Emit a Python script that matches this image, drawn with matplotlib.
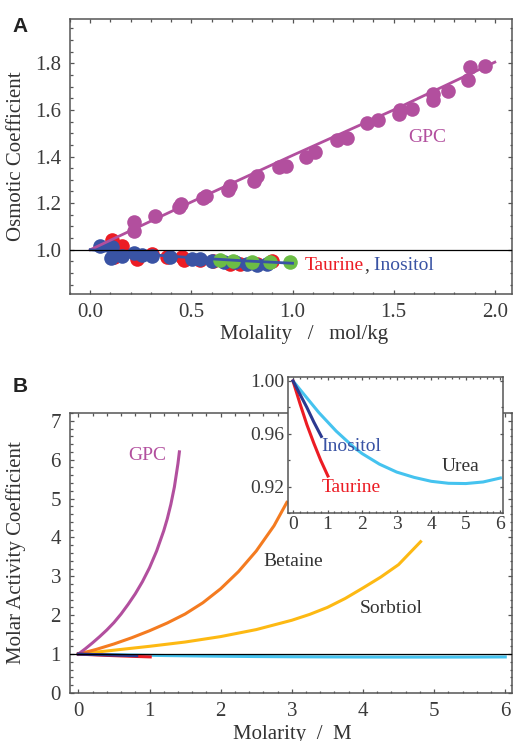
import matplotlib
matplotlib.use("Agg")
import matplotlib.pyplot as plt
from matplotlib.ticker import MultipleLocator, FormatStrFormatter

# ---- panel A: osmotic coefficient vs molality ----
gpc_m = [0.214, 0.214, 0.318, 0.44, 0.45, 0.556, 0.57, 0.683, 0.69, 0.807, 0.826,
         0.935, 0.968, 1.067, 1.11, 1.218, 1.268, 1.366, 1.424, 1.526, 1.53, 1.593,
         1.692, 1.692, 1.77, 1.868, 1.877, 1.95]
gpc_phi = [1.118, 1.082, 1.146, 1.185, 1.195, 1.22, 1.23, 1.258, 1.275, 1.297, 1.318,
           1.354, 1.361, 1.40, 1.419, 1.469, 1.48, 1.543, 1.555, 1.583, 1.598, 1.605,
           1.641, 1.667, 1.681, 1.727, 1.784, 1.79]
gpc_fit_m = [0.0, 0.5, 1.0, 1.5, 2.0]
gpc_fit_phi = [1.0, 1.205, 1.405, 1.60, 1.805]

taurine_m = [0.107, 0.156, 0.115, 0.23, 0.305, 0.379, 0.453, 0.461, 0.543, 0.609,
             0.691, 0.741, 0.823, 0.897]
taurine_phi = [1.042, 1.017, 0.967, 0.96, 0.981, 0.967, 0.970, 0.956, 0.956, 0.950,
               0.938, 0.941, 0.938, 0.953]
inositol_m = [0.046, 0.107, 0.102, 0.156, 0.214, 0.255, 0.305, 0.392, 0.502, 0.543,
              0.601, 0.662, 0.716, 0.774, 0.823, 0.872]
inositol_phi = [1.017, 1.013, 0.964, 0.974, 0.984, 0.978, 0.974, 0.967, 0.96, 0.96,
                0.953, 0.946, 0.946, 0.941, 0.934, 0.941]
other_m = [0.642, 0.708, 0.798, 0.889, 0.988]
other_phi = [0.956, 0.950, 0.946, 0.946, 0.946]
low_fit_m = [0.0, 0.25, 0.5, 0.75, 1.0]
low_fit_phi = [1.0, 0.982, 0.966, 0.953, 0.942]

# ---- panel B: molar activity coefficient vs molarity ----
gpc_c = [0.0, 0.1, 0.2, 0.3, 0.4, 0.5, 0.6, 0.7, 0.8, 0.9, 1.0, 1.1, 1.2, 1.25,
         1.3, 1.35, 1.4, 1.42]
gpc_g = [1.0, 1.14, 1.29, 1.45, 1.62, 1.81, 2.03, 2.28, 2.55, 2.86, 3.22, 3.65, 4.17,
         4.48, 4.85, 5.30, 5.90, 6.20]
betaine_c = [0.0, 0.25, 0.5, 0.75, 1.0, 1.25, 1.5, 1.75, 2.0, 2.25, 2.5, 2.75, 2.93]
betaine_g = [1.0, 1.12, 1.26, 1.42, 1.60, 1.80, 2.03, 2.32, 2.68, 3.12, 3.65, 4.30, 4.90]
sorbitol_c = [0.0, 0.5, 1.0, 1.5, 2.0, 2.5, 3.0, 3.25, 3.5, 3.75, 4.0, 4.25, 4.5, 4.81]
sorbitol_g = [1.0, 1.10, 1.20, 1.31, 1.45, 1.63, 1.87, 2.02, 2.20, 2.43, 2.70, 2.98,
              3.30, 3.89]
urea_c = [0.0, 0.25, 0.5, 0.75, 1.0, 1.25, 1.5, 1.75, 2.0, 2.5, 3.0, 3.5, 4.0, 4.5,
          5.0, 5.5, 6.0]
urea_g = [1.0, 0.992, 0.984, 0.976, 0.969, 0.962, 0.956, 0.950, 0.945, 0.937, 0.931,
          0.927, 0.924, 0.9225, 0.9223, 0.9235, 0.9265]
inositol_c = [0.0, 0.2, 0.4, 0.6, 0.82]
inositol_g = [1.0, 0.990, 0.980, 0.969, 0.958]
taurine_c = [0.0, 0.2, 0.4, 0.6, 0.8, 1.01]
taurine_g = [1.0, 0.983, 0.967, 0.953, 0.940, 0.928]

PURPLE = "#b24f9e"
RED = "#ec1c24"
BLUE = "#3953a4"
NAVY = "#2b3990"
GREEN = "#6cbd45"
ORANGE = "#f47b20"
YELLOW = "#fdb913"
CYAN = "#45c3ef"
TXT = "#333333"
SERIF = "Liberation Serif"

plt.rcParams["font.family"] = SERIF


def style(ax, fs=15, pad=6.5, major=3.0, minor=1.8):
    for s in ax.spines.values():
        s.set_color("#555555")
        s.set_linewidth(1.1)
    ax.tick_params(which="both", direction="in", top=True, right=True,
                   color="#555555", width=0.9, labelsize=fs, labelcolor="#3a3a3a",
                   pad=pad)
    ax.tick_params(which="major", length=major)
    ax.tick_params(which="minor", length=minor)


fig = plt.figure(figsize=(5.13, 7.41), dpi=100)

# panel A
axA = fig.add_axes([0.1365, 0.6032, 0.8616, 0.3711])
ms = 10.5
axA.plot(taurine_m, taurine_phi, "o", color=RED, ms=ms, mec="none", zorder=2)
axA.plot(inositol_m, inositol_phi, "o", color=BLUE, ms=ms, mec="none", zorder=3)
axA.plot(other_m, other_phi, "o", color=GREEN, ms=ms, mec="none", zorder=4)
axA.plot(gpc_m, gpc_phi, "o", color=PURPLE, ms=ms, mec="none", zorder=4)
axA.plot(gpc_fit_m, gpc_fit_phi, color=PURPLE, lw=2.0, zorder=5)
axA.plot(low_fit_m, low_fit_phi, color=BLUE, lw=2.0, zorder=5)
axA.axhline(1.0, color="black", lw=0.9, zorder=6)
axA.set_xlim(-0.1, 2.085)
axA.set_ylim(0.81, 1.99)
axA.xaxis.set_major_locator(MultipleLocator(0.5))
axA.xaxis.set_minor_locator(MultipleLocator(0.1))
axA.yaxis.set_major_locator(MultipleLocator(0.2))
axA.yaxis.set_minor_locator(MultipleLocator(0.05))
axA.xaxis.set_major_formatter(FormatStrFormatter("%.1f"))
axA.yaxis.set_major_formatter(FormatStrFormatter("%.1f"))
style(axA)
axA.set_xlabel("Molality   /   mol/kg", fontsize=15, color=TXT)
axA.xaxis.set_label_coords(0.53, -0.113)
axA.set_ylabel("Osmotic Coefficient", fontsize=15, color=TXT)
axA.yaxis.set_label_coords(-0.0995, 0.5)
axA.text(1.57, 1.482, "GPC", color=PURPLE, fontsize=14, va="center")
t1 = axA.text(1.062, 0.931, "Taurine", color=RED, fontsize=14, va="center")
t2 = axA.annotate(",", xy=(1, 0), xycoords=t1, va="bottom", color=TXT, fontsize=14)
axA.annotate(" Inositol", xy=(1, 0), xycoords=t2, va="bottom", color=BLUE, fontsize=14)

# panel B
axB = fig.add_axes([0.1365, 0.0648, 0.8616, 0.3779])
axB.axhline(1.0, color="black", lw=0.9, zorder=6)
axB.plot(urea_c, urea_g, color=CYAN, lw=2.2, zorder=3)
axB.plot(taurine_c, taurine_g, color=RED, lw=2.2, zorder=4)
axB.plot(inositol_c, inositol_g, color=NAVY, lw=2.2, zorder=5)
axB.plot(sorbitol_c, sorbitol_g, color=YELLOW, lw=2.2, zorder=3)
axB.plot(betaine_c, betaine_g, color=ORANGE, lw=2.2, zorder=3)
axB.plot(gpc_c, gpc_g, color=PURPLE, lw=2.2, zorder=3)
axB.set_xlim(-0.117, 6.095)
axB.set_ylim(0, 7.2)
axB.xaxis.set_major_locator(MultipleLocator(1))
axB.xaxis.set_minor_locator(MultipleLocator(0.2))
axB.yaxis.set_major_locator(MultipleLocator(1))
axB.yaxis.set_minor_locator(MultipleLocator(0.2))
style(axB)
axB.set_xlabel("Molarity  /  M", fontsize=15, color=TXT)
axB.xaxis.set_label_coords(0.502, -0.114)
axB.set_ylabel("Molar Activity Coefficient", fontsize=15, color=TXT)
axB.yaxis.set_label_coords(-0.0995, 0.5)
axB.text(0.70, 6.11, "GPC", color=PURPLE, fontsize=14, va="center")
axB.text(2.60, 3.38, "Betaine", color=TXT, fontsize=14, va="center")
axB.text(3.96, 2.18, "Sorbtiol", color=TXT, fontsize=14, va="center")

# inset
axI = fig.add_axes([0.5614, 0.3077, 0.4191, 0.1835])
axI.set_facecolor("white")
axI.plot(urea_c, urea_g, color=CYAN, lw=2.2)
axI.plot(taurine_c, taurine_g, color=RED, lw=2.2)
axI.plot(inositol_c, inositol_g, color=NAVY, lw=2.2)
axI.set_xlim(-0.145, 6.075)
axI.set_ylim(0.90, 1.003)
axI.xaxis.set_major_locator(MultipleLocator(1))
axI.xaxis.set_minor_locator(MultipleLocator(0.2))
axI.yaxis.set_major_locator(MultipleLocator(0.04))
axI.yaxis.set_minor_locator(MultipleLocator(0.02))
axI.yaxis.set_major_formatter(FormatStrFormatter("%.2f"))
style(axI, fs=14, pad=2.5, major=2.5, minor=1.5)
axI.text(0.82, 0.950, "Inositol", color=BLUE, fontsize=14, va="center")
axI.text(0.82, 0.919, "Taurine", color=RED, fontsize=14, va="center")
axI.text(4.29, 0.935, "Urea", color=TXT, fontsize=14, va="center")

fig.text(0.025, 0.977, "A", fontsize=15, fontweight="bold", family="Liberation Sans",
         va="top", color="#222222")
fig.text(0.025, 0.491, "B", fontsize=15, fontweight="bold", family="Liberation Sans",
         va="top", color="#222222")

fig.savefig("out.png", dpi=100)
